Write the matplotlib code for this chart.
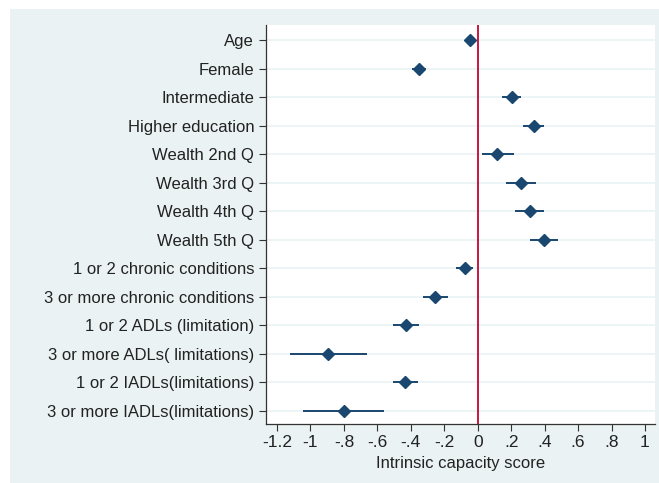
import numpy as np
import matplotlib.pyplot as plt
from matplotlib.patches import Rectangle

plt.rcParams['font.family'] = ['Liberation Sans', 'DejaVu Sans']

labels = ['Age', 'Female', 'Intermediate', 'Higher education',
          'Wealth 2nd Q', 'Wealth 3rd Q', 'Wealth 4th Q', 'Wealth 5th Q',
          '1 or 2 chronic conditions', '3 or more chronic conditions',
          '1 or 2 ADLs (limitation)', '3 or more ADLs( limitations)',
          '1 or 2 IADLs(limitations)', '3 or more IADLs(limitations)']
coef = [-0.044, -0.352, 0.204, 0.334, 0.118, 0.258, 0.31, 0.396,
        -0.076, -0.254, -0.428, -0.894, -0.432, -0.8]
lo = [-0.06, -0.394, 0.144, 0.272, 0.028, 0.17, 0.22, 0.312,
      -0.13, -0.33, -0.504, -1.124, -0.504, -1.044]
hi = [-0.028, -0.308, 0.26, 0.398, 0.214, 0.348, 0.396, 0.482,
      -0.028, -0.178, -0.35, -0.66, -0.358, -0.558]
xticks = [-1.2, -1, -0.8, -0.6, -0.4, -0.2, 0, 0.2, 0.4, 0.6, 0.8, 1]
xticklabels = ['-1.2', '-1', '-.8', '-.6', '-.4', '-.2', '0', '.2', '.4', '.6', '.8', '1']

W, H = 659, 483
fig = plt.figure(figsize=(W / 100, H / 100), dpi=100, facecolor='white')
bg = '#EAF2F3'
fig.patches.append(Rectangle((10 / W, 0), 1 - 10 / W, 1 - 9 / H,
                             transform=fig.transFigure, facecolor=bg,
                             edgecolor='none', zorder=-10))

ax = fig.add_axes([266 / W, 1 - 424 / H, (655 - 266) / W, (424 - 25) / H])
ax.set_facecolor('white')

y = np.arange(len(labels))
coef = np.array(coef)
err = [coef - np.array(lo), np.array(hi) - coef]

for yy in y:
    ax.axhline(yy, color=bg, lw=1.2, zorder=0)
ax.axvline(0, color='#C10534', lw=1.3, zorder=1)
ax.errorbar(coef, y, xerr=err, fmt='D', color='#1A476F', ms=6.5,
            elinewidth=1.4, capsize=0, zorder=3)

ax.set_ylim(13.47, -0.53)
ax.set_xlim(-1.266, 1.06)
ax.set_yticks(y)
ax.set_yticklabels(labels)
ax.set_xticks(xticks)
ax.set_xticklabels(xticklabels)
ax.tick_params(axis='both', direction='out', length=5, width=0.8,
               labelsize=12, color='#333333', labelcolor='#222222')
ax.tick_params(axis='x', pad=3, labelsize=12.5)
for s in ['top', 'right']:
    ax.spines[s].set_visible(False)
for s in ['left', 'bottom']:
    ax.spines[s].set_color('#333333')
    ax.spines[s].set_linewidth(0.9)
ax.set_xlabel('Intrinsic capacity score', fontsize=12, color='#222222', labelpad=4)

fig.savefig('out.png', dpi=100, facecolor='white')
